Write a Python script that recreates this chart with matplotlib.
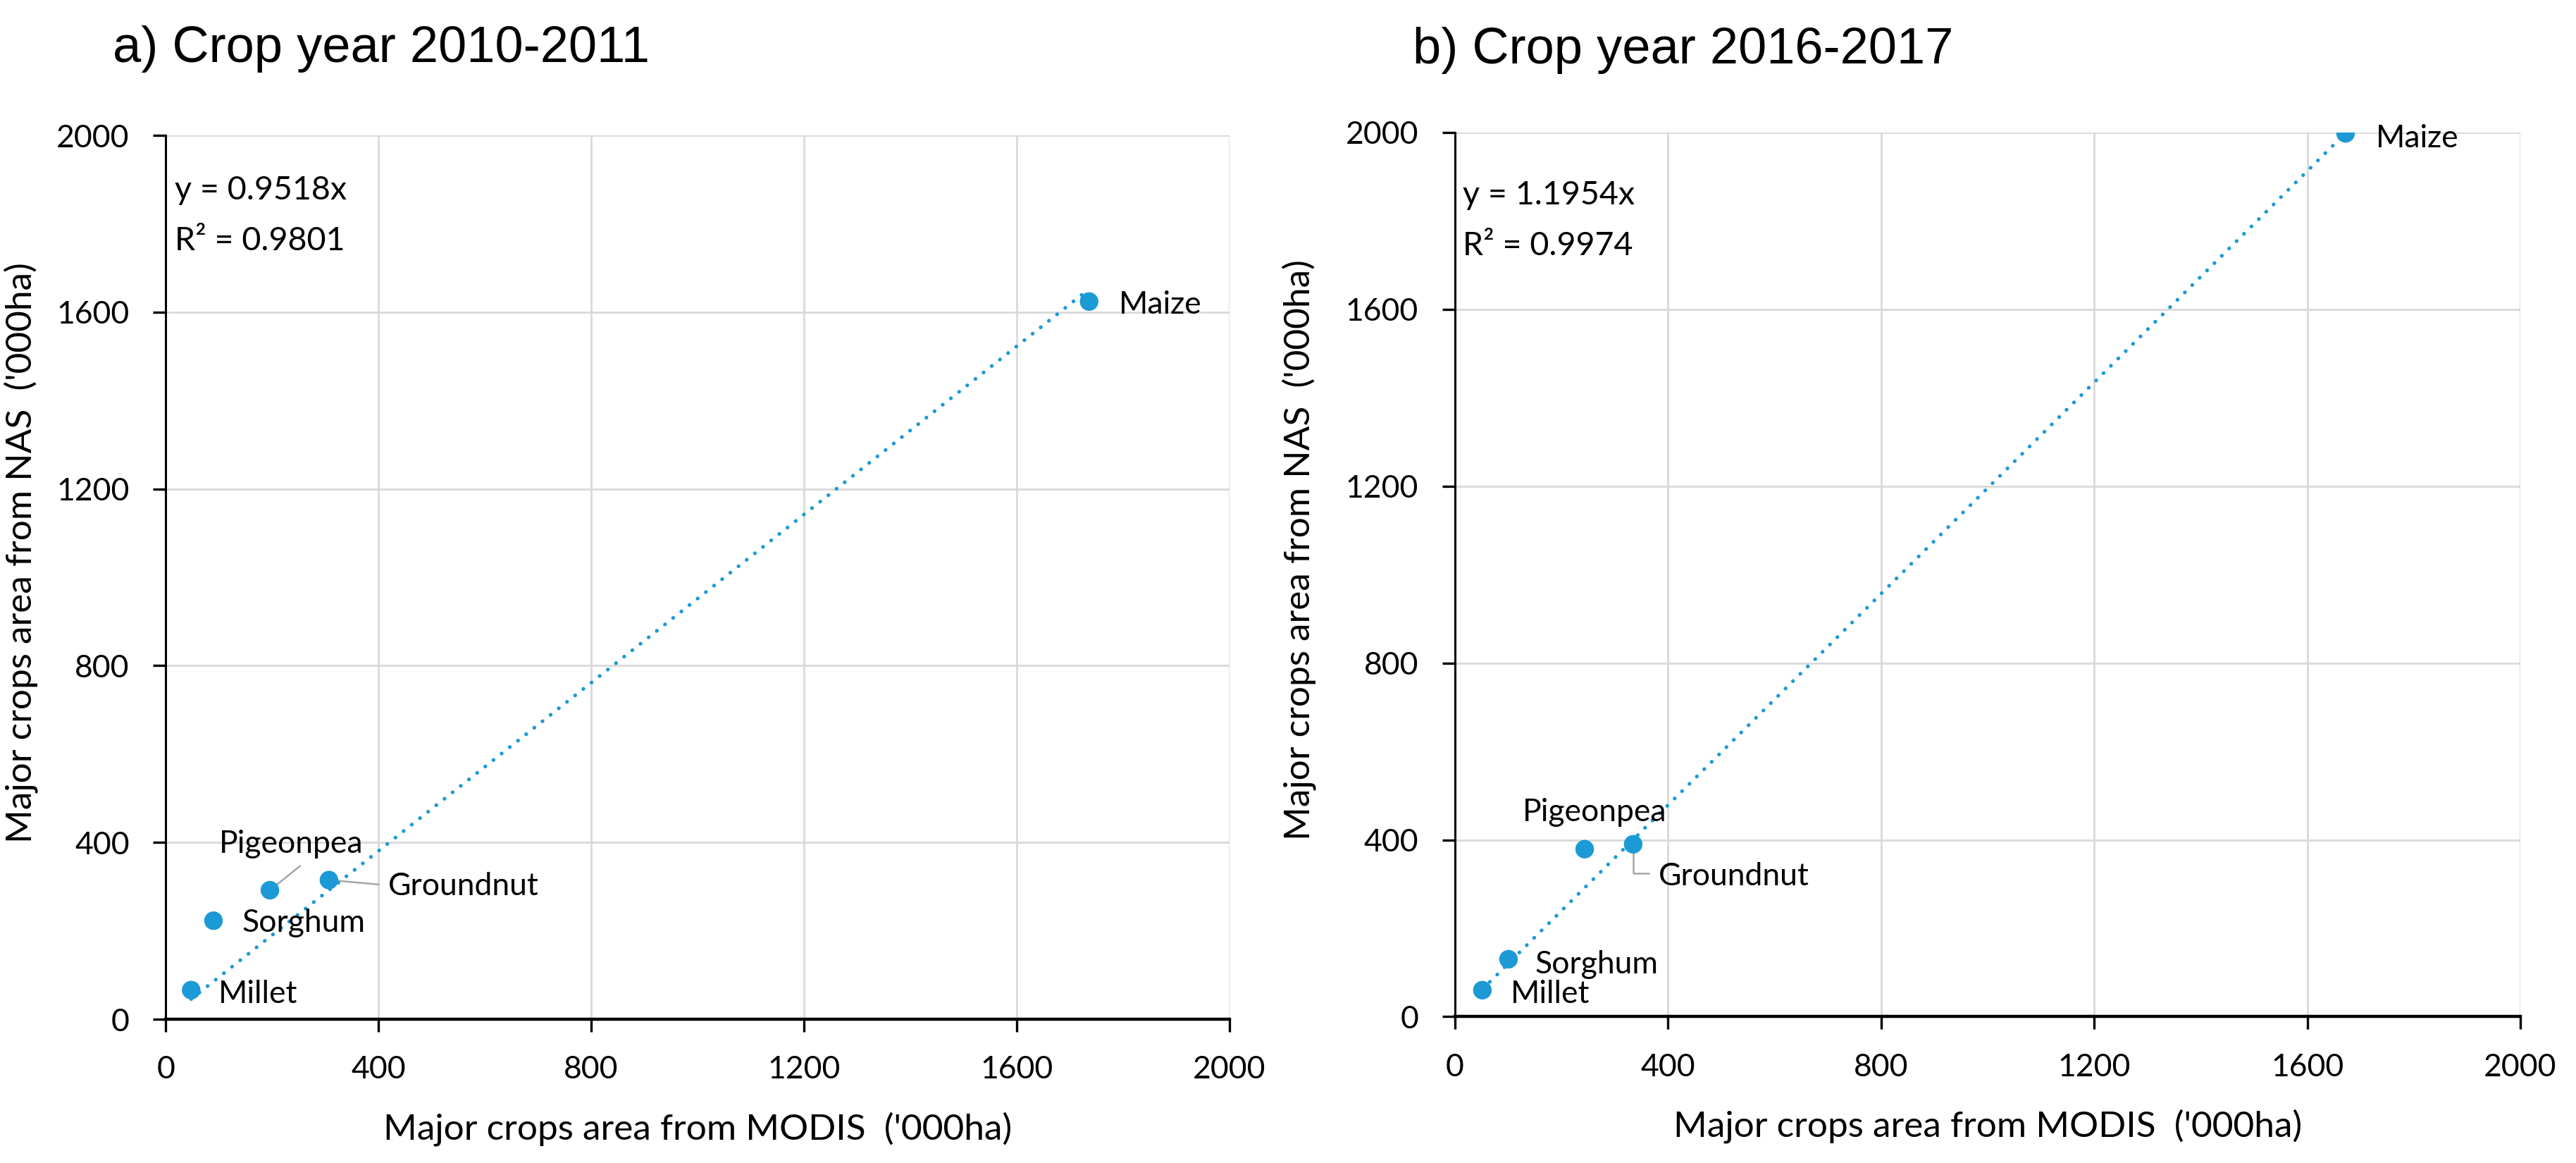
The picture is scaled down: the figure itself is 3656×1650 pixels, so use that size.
import matplotlib.pyplot as plt
import numpy as np

# Datos (miles de hectareas)
cultivos = ['Maize', 'Groundnut', 'Pigeonpea', 'Sorghum', 'Millet']

modis_2010 = [1736, 307, 196, 90, 48]
nas_2010 = [1624, 315, 292, 223, 66]

modis_2016 = [1672, 335, 244, 101, 52]
nas_2016 = [1998, 390, 379, 130, 60]

pendiente_2010 = 0.9518
r2_2010 = 0.9801
pendiente_2016 = 1.1954
r2_2016 = 0.9974

marcas_ejes = [0, 400, 800, 1200, 1600, 2000]

titulos = ['a) Crop year 2010-2011', 'b) Crop year 2016-2017']
etiqueta_x = "Major crops area from MODIS  ('000ha)"
etiqueta_y = "Major crops area from NAS  ('000ha)"

# Posicion de las etiquetas de cada cultivo (izquierda, linea base) en unidades de datos
pos_etiquetas_2010 = {'Maize': (1792, 1597), 'Groundnut': (418, 281), 'Pigeonpea': (101, 377),
                      'Sorghum': (143, 198), 'Millet': (99, 36)}
pos_etiquetas_2016 = {'Maize': (1729, 1966), 'Groundnut': (382, 297), 'Pigeonpea': (127, 442),
                      'Sorghum': (151, 98), 'Millet': (105, 31)}

# Lineas guia: extremo del lado de la etiqueta y estilo de conexion
guias_2010 = {'Pigeonpea': ((253, 347), 'arc3'), 'Groundnut': ((401, 305), 'arc3')}
guias_2016 = {'Groundnut': ((364, 324), 'angle,angleA=0,angleB=90,rad=0')}

AZUL = '#1C9AD6'
GRIS_GUIA = '#A5A5A5'
GRIS_REJILLA = '#D9D9D9'
FUENTE = ['Lato', 'DejaVu Sans']
FUENTE_TITULO = ['Liberation Sans', 'DejaVu Sans']


def dibujar_panel(ax, x, y, pendiente, r2, pos_etiquetas, guias, pos_ecuacion):
    """Dibuja un panel de dispersion con su linea de tendencia por el origen."""
    x = np.array(x, dtype=float)
    y = np.array(y, dtype=float)

    # Linea de tendencia (puntos redondos) desde el valor minimo al maximo de x
    x_linea = np.array([x.min(), x.max()])
    ax.plot(x_linea, pendiente * x_linea, color=AZUL, lw=1.9,
            linestyle=(0, (0.05, 2.75)), dash_capstyle='round', zorder=3)

    ax.scatter(x, y, s=9.5 ** 2, color=AZUL, edgecolors='none', zorder=4)

    for nombre, xi, yi in zip(cultivos, x, y):
        tx, ty = pos_etiquetas[nombre]
        ax.text(tx, ty, nombre, fontsize=16, family=FUENTE, ha='left', va='baseline', zorder=5)
        if nombre in guias:
            extremo, estilo = guias[nombre]
            ax.annotate('', xy=(xi, yi), xytext=extremo,
                        arrowprops=dict(arrowstyle='-', color=GRIS_GUIA, lw=0.9,
                                        shrinkA=0, shrinkB=0, connectionstyle=estilo),
                        zorder=2)

    # Ecuacion y R2 en la esquina superior izquierda
    ex, ey = pos_ecuacion
    ax.text(ex, ey, f'y = {pendiente:.4f}x', fontsize=16.8, family=FUENTE, va='baseline')
    ax.text(ex, ey - 115, f'R² = {r2:.4f}', fontsize=16.8, family=FUENTE, va='baseline')

    ax.set_xlim(0, 2000)
    ax.set_ylim(0, 2000)
    ax.set_xticks(marcas_ejes)
    ax.set_yticks(marcas_ejes)
    ax.grid(True, color=GRIS_REJILLA, lw=1.0, zorder=0)
    ax.set_axisbelow(True)

    for lado in ['top', 'right']:
        ax.spines[lado].set_visible(False)
    ax.spines['bottom'].set_linewidth(1.6)
    ax.spines['left'].set_linewidth(1.1)

    ax.tick_params(axis='both', direction='out', length=6.5, width=1.2, pad=12,
                   labelsize=16, colors='black')
    for lbl in ax.get_xticklabels() + ax.get_yticklabels():
        lbl.set_family(FUENTE)

    ax.set_xlabel(etiqueta_x, fontsize=18.5, family=FUENTE, labelpad=14)
    ax.set_ylabel(etiqueta_y, fontsize=18.5, family=FUENTE)


fig = plt.figure(figsize=(18.28, 8.25), dpi=200)
ax1 = fig.add_axes([0.0643, 0.1236, 0.4130, 0.7600])
ax2 = fig.add_axes([0.5647, 0.1258, 0.4137, 0.7603])

dibujar_panel(ax1, modis_2010, nas_2010, pendiente_2010, r2_2010,
              pos_etiquetas_2010, guias_2010, (17, 1855))
dibujar_panel(ax2, modis_2016, nas_2016, pendiente_2016, r2_2016,
              pos_etiquetas_2016, guias_2016, (15, 1838))

# Posicion de las etiquetas del eje y (ligeramente desplazadas como en el original)
ax1.yaxis.set_label_coords(-0.120, 0.528)
ax2.yaxis.set_label_coords(-0.130, 0.528)

fig.text(160 / 3656, 1 - 88 / 1650, titulos[0], fontsize=26, family=FUENTE_TITULO, va='baseline')
fig.text(2005 / 3656, 1 - 90 / 1650, titulos[1], fontsize=26, family=FUENTE_TITULO, va='baseline')

fig.savefig('out.png', dpi=200, facecolor='white')
